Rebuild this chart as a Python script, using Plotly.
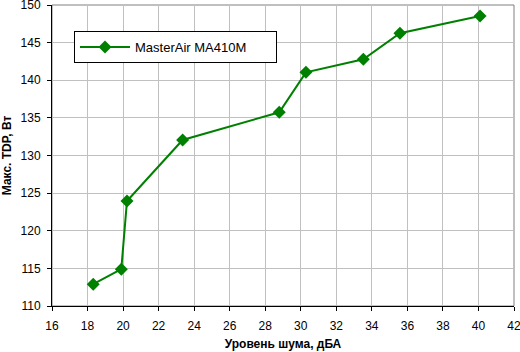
import plotly.graph_objects as go

noise_dba = [18.32, 19.9, 20.22, 23.35, 28.79, 30.29, 33.52, 35.58, 40.09]
tdp_w = [112.9, 114.9, 123.95, 132.06, 135.74, 141.05, 142.78, 146.24, 148.54]
series_name = "MasterAir MA410M"
x_title = "Уровень шума, дБА"
y_title = "Макс. TDP, Вт"

FONT = "Arial, Liberation Sans, sans-serif"

fig = go.Figure()
fig.add_trace(go.Scatter(
    x=noise_dba, y=tdp_w, name=series_name, mode="lines+markers",
    line=dict(color="#008000", width=2),
    marker=dict(symbol="diamond", size=10, color="#008000"),
    showlegend=True,
))

fig.update_layout(
    width=520, height=352,
    margin=dict(l=52, r=6, t=5, b=46, autoexpand=False),
    paper_bgcolor="white", plot_bgcolor="white",
    font=dict(family=FONT, size=12, color="black"),
    showlegend=True,
    legend=dict(
        orientation="h",
        x=0.0476, y=0.9136, xanchor="left", yanchor="top",
        bordercolor="black", borderwidth=1, bgcolor="white",
        font=dict(family=FONT, size=13, color="black"),
        itemwidth=50,
        entrywidth=136,
        tracegroupgap=0,
    ),
    xaxis=dict(
        range=[16, 42], dtick=2, tick0=16, automargin=False,
        showgrid=True, gridcolor="#c0c0c0", gridwidth=1,
        showline=True, linecolor="black", linewidth=1,
        ticks="outside", ticklen=4, tickcolor="black",
        ticklabelstandoff=5, ticklabeloverflow="allow",
        tickfont=dict(family=FONT, size=12, color="black"),
        zeroline=False,
        title=dict(text=x_title, font=dict(family=FONT, size=12, color="black", weight="bold"), standoff=7),
    ),
    yaxis=dict(
        range=[110, 150], dtick=5, tick0=110, automargin=False,
        showgrid=True, gridcolor="#c0c0c0", gridwidth=1,
        showline=True, linecolor="black", linewidth=1,
        ticks="outside", ticklen=4, tickcolor="black",
        ticklabelstandoff=4, ticklabeloverflow="allow",
        tickfont=dict(family=FONT, size=12, color="black"),
        zeroline=False,
        title=dict(text=y_title, font=dict(family=FONT, size=12, color="black", weight="bold"), standoff=13),
    ),
    shapes=[dict(type="rect", xref="paper", yref="paper", x0=0, y0=0, x1=1, y1=1,
                 line=dict(color="#808080", width=1), layer="below")],
)

fig.write_html("out.html")
